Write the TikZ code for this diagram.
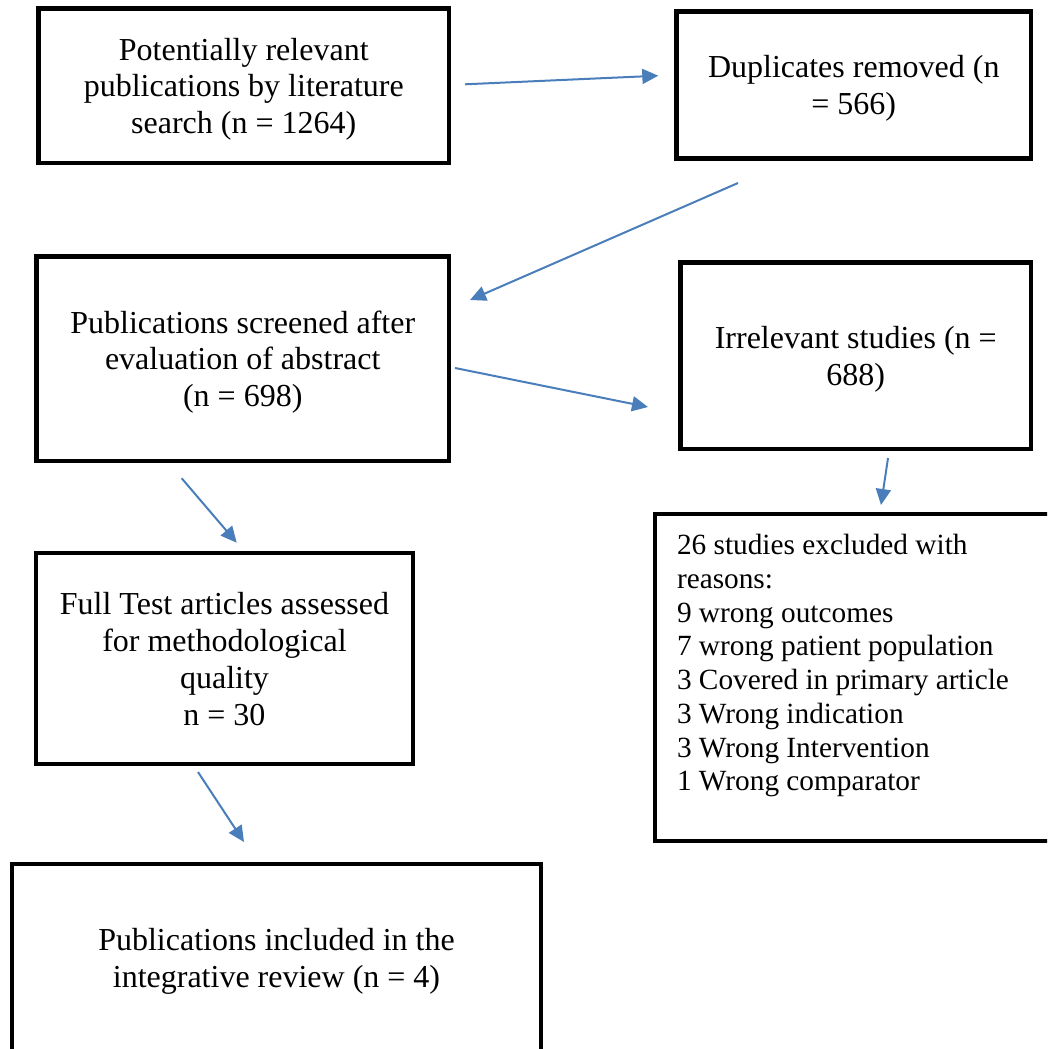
\documentclass[tikz,border=0pt]{standalone}
\usepackage{fontspec}
\setmainfont{Liberation Serif}
\usetikzlibrary{arrows.meta}
\definecolor{flowblue}{RGB}{74,126,187}
\newcommand{\lnup}{\rule{0pt}{29pt}}
\newcommand{\lndn}{\rule[-6pt]{0pt}{6pt}}
\tikzstyle{stage}=[rectangle, draw, line width=4.8pt, outer sep=0pt, align=center, inner sep=0pt, font=\fontsize{32}{36.8}\selectfont]
\tikzstyle{flow}=[-{Triangle[length=16pt, width=15pt]}, draw=flowblue, fill=flowblue, line width=2pt]

\begin{document}
\begin{tikzpicture}[x=1pt, y=-1pt]
                \useasboundingbox (0,0) rectangle (1047,1049);
                \clip (0,0) rectangle (1047,1049);
                \node[stage, minimum width=410.5, minimum height=154.5] (search) at (243.75, 85.75)
                        {\lnup Potentially relevant\\publications by literature\\search (n = 1264)\lndn};
                \node[stage, minimum width=354.5, minimum height=147] (dupl) at (853.75, 85.2)
                        {\lnup Duplicates removed (n\\= 566)\lndn};
                \node[stage, minimum width=412.5, minimum height=204.2] (screen) at (242.75, 358.9)
                        {\lnup Publications screened after\\evaluation of abstract\\(n = 698)\lndn};
                \node[stage, minimum width=350.5, minimum height=186.2] (irrel) at (855.75, 355.9)
                        {\lnup Irrelevant studies (n =\\688)\lndn};
                \node[stage, minimum width=377, minimum height=211] (full) at (224.5, 658.5)
                        {\lnup Full Test articles assessed\\for methodological\\quality\\n = 30\lndn};
                \node[stage, anchor=north west, inner xsep=22pt, align=left] (excl) at (655, 514)
                        {\parbox[c][327pt][t]{383pt}{\raggedright\fontsize{29.3}{33.7}\selectfont\vspace*{20.5pt}%
                        26 studies excluded with\\reasons:\\9 wrong outcomes\\7 wrong patient population\\%
                        3 Covered in primary article\\3 Wrong indication\\3 Wrong Intervention\\1 Wrong comparator}};
                \node[stage, minimum width=529, minimum height=188] (incl) at (276.5, 958)
                        {\lnup Publications included in the\\integrative review (n = 4)\lndn};
                % free ends of the arrows
                \coordinate (a1) at (465, 84.3);
                \coordinate (b1) at (658.3, 75.7);
                \coordinate (a2) at (738, 183);
                \coordinate (b2) at (470, 300);
                \coordinate (a3) at (455, 368);
                \coordinate (b3) at (648, 407);
                \coordinate (a4) at (888, 458);
                \coordinate (b4) at (881, 505);
                \coordinate (a5) at (181.7, 478.3);
                \coordinate (b5) at (236.7, 542.7);
                \coordinate (a6) at (198, 772);
                \coordinate (b6) at (244, 842);
                \draw[flow]  (a1)--(b1);
                \draw[flow]  (a2)--(b2);
                \draw[flow]  (a3)--(b3);
                \draw[flow]  (a4)--(b4);
                \draw[flow]  (a5)--(b5);
                \draw[flow]  (a6)--(b6);
            \end{tikzpicture}
\end{document}
